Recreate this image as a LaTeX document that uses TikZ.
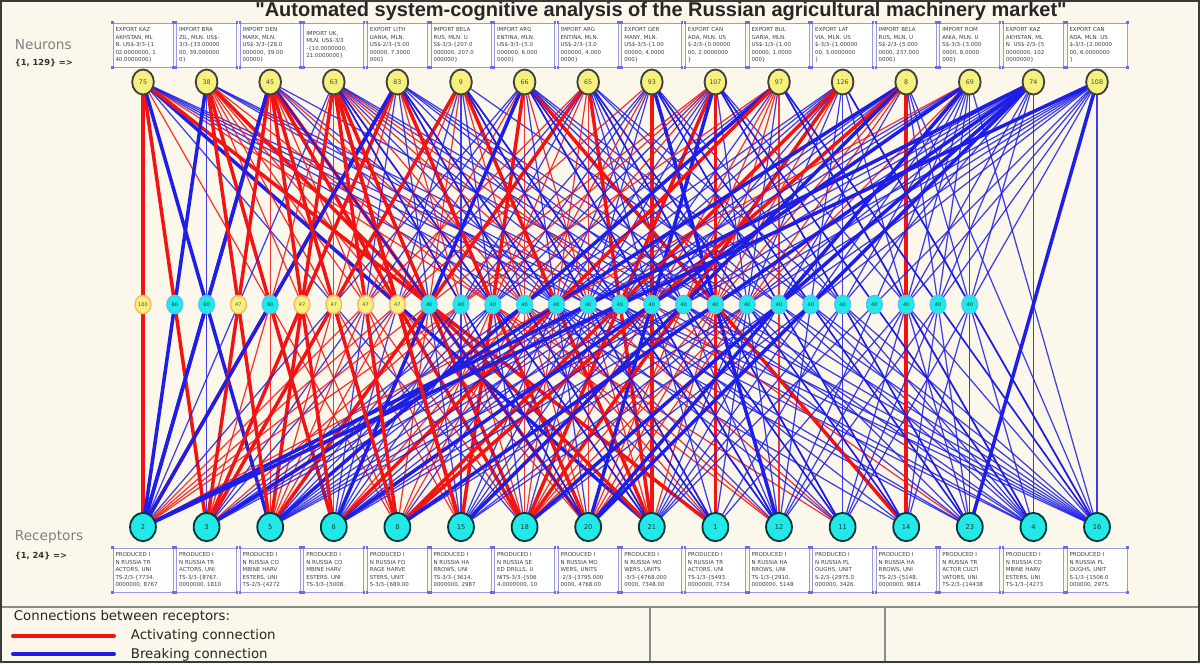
\documentclass[tikz,border=0pt]{standalone}
\usepackage{fontspec}
\setmainfont{DejaVu Sans}
\newfontfamily\titlefont{Liberation Sans}
\usetikzlibrary{shapes.geometric,calc}
\definecolor{bgc}{HTML}{FBF7EA}
\definecolor{redl}{HTML}{F01414}
\definecolor{bluel}{HTML}{1E1EE6}
\definecolor{neufill}{HTML}{F6F07C}
\definecolor{recfill}{HTML}{22E8E8}
\definecolor{boxedge}{HTML}{9A9AE0}
\definecolor{frame}{HTML}{3A3A3A}
\pgfdeclarelayer{back}
\pgfdeclarelayer{lines}
\pgfsetlayers{back,lines,main}
\begin{document}
\begin{tikzpicture}[x=0.6pt,y=-0.6pt,
  neuron/.style={ellipse,draw=black!75,line width=1.1pt,fill=neufill,minimum width=13pt,minimum height=15pt,inner sep=0pt,font=\fontsize{3.8}{4}\selectfont,text=black!70},
  receptor/.style={ellipse,draw=teal!45!black,line width=1.1pt,fill=recfill,minimum width=15.5pt,minimum height=17pt,inner sep=0pt,font=\fontsize{4}{4}\selectfont,text=teal!50!black},
  midy/.style={ellipse,draw=orange!60,line width=0.8pt,fill=neufill,minimum width=9.5pt,minimum height=11pt,inner sep=0pt,font=\fontsize{3}{3}\selectfont,text=black!70},
  midc/.style={ellipse,draw=cyan!70,line width=0.8pt,fill=recfill,minimum width=9.5pt,minimum height=11pt,inner sep=0pt,font=\fontsize{3}{3}\selectfont,text=teal!50!black},
  lbox/.style={draw=boxedge,line width=0.5pt,fill=white,minimum width=36pt,minimum height=26.5pt,text width=33pt,align=left,inner sep=1pt,font=\fontsize{3.3}{4.5}\selectfont,text=black!75},
  act/.style={draw=redl},
  brk/.style={draw=bluel},
  thickl/.style={line width=2.1pt},
  thinl/.style={line width=0.75pt,opacity=0.85},
  sidelab/.style={anchor=west,font=\fontsize{8.2}{9}\selectfont,text=black!50},
  sideidx/.style={anchor=west,font=\bfseries\fontsize{5}{6}\selectfont,text=black!80},
  legtxt/.style={anchor=west,font=\fontsize{8}{9}\selectfont,text=black!85}
]
\useasboundingbox (0,0) rectangle (1200,664);
\begin{pgfonlayer}{back}
\fill[bgc] (0,0) rectangle (1200,664);
\end{pgfonlayer}

% title
\node[font=\titlefont\bfseries\fontsize{12}{12}\selectfont,text=black!85] (title) at (661,11) {"Automated system-cognitive analysis of the Russian agricultural machinery market"};

% side labels
\node[sidelab] (neulab) at (9,45) {Neurons};
\node[sideidx] (neuidx) at (9,63) {\{1, 129\} =>};
\node[sidelab] (reclab) at (9,537) {Receptors};
\node[sideidx] (recidx) at (9,556) {\{1, 24\} =>};

% neurons and receptors
\foreach \i/\nn/\rn in {0/75/2,1/38/3,2/45/5,3/63/6,4/83/8,5/9/15,6/66/18,7/65/20,8/93/21,9/107/1,10/97/12,11/126/11,12/8/14,13/69/23,14/74/4,15/108/16}{
  \node[neuron] (n\i) at ({143+63.6*\i},82) {\nn};
  \node[receptor] (r\i) at ({143+63.6*\i},527) {\rn};
}

% top labels
\node[lbox] (t0) at ({143+63.6*0},45) {EXPORT KAZ\\AKHSTAN, ML\\N. US\$-3/3-\{1\\02.0000000, 1\\40.0000000\}};
\node[lbox] (t1) at ({143+63.6*1},45) {IMPORT BRA\\ZIL, MLN. US\$-\\3/3-\{33.00000\\00, 39.000000\\0\}};
\node[lbox] (t2) at ({143+63.6*2},45) {IMPORT DEN\\MARK, MLN.\\US\$-3/3-\{28.0\\000000, 39.00\\00000\}};
\node[lbox] (t3) at ({143+63.6*3},45) {IMPORT UK,\\MLN. US\$-3/3\\-\{10.0000000,\\21.0000000\}};
\node[lbox] (t4) at ({143+63.6*4},45) {EXPORT LITH\\UANIA, MLN.\\US\$-2/3-\{5.00\\00000, 7.3000\\000\}};
\node[lbox] (t5) at ({143+63.6*5},45) {IMPORT BELA\\RUS, MLN. U\\S\$-3/3-\{207.0\\000000, 207.0\\000000\}};
\node[lbox] (t6) at ({143+63.6*6},45) {IMPORT ARG\\ENTINA, MLN.\\US\$-3/3-\{5.0\\000000, 6.000\\0000\}};
\node[lbox] (t7) at ({143+63.6*7},45) {IMPORT ARG\\ENTINA, MLN.\\US\$-2/3-\{3.0\\000000, 4.000\\0000\}};
\node[lbox] (t8) at ({143+63.6*8},45) {EXPORT GER\\MANY, MLN.\\US\$-3/3-\{1.00\\00000, 4.0000\\000\}};
\node[lbox] (t9) at ({143+63.6*9},45) {EXPORT CAN\\ADA, MLN. US\\\$-2/3-\{0.00000\\00, 2.0000000\\\}};
\node[lbox] (t10) at ({143+63.6*10},45) {EXPORT BUL\\GARIA, MLN.\\US\$-1/3-\{1.00\\00000, 1.0000\\000\}};
\node[lbox] (t11) at ({143+63.6*11},45) {EXPORT LAT\\VIA, MLN. US\\\$-3/3-\{1.00000\\00, 3.0000000\\\}};
\node[lbox] (t12) at ({143+63.6*12},45) {IMPORT BELA\\RUS, MLN. U\\S\$-2/3-\{5.000\\0000, 237.000\\0000\}};
\node[lbox] (t13) at ({143+63.6*13},45) {IMPORT ROM\\ANIA, MLN. U\\S\$-3/3-\{3.000\\0000, 8.0000\\000\}};
\node[lbox] (t14) at ({143+63.6*14},45) {EXPORT KAZ\\AKHSTAN, ML\\N. US\$-2/3-\{5\\0000000, 102\\0000000\}};
\node[lbox] (t15) at ({143+63.6*15},45) {EXPORT CAN\\ADA, MLN. US\\\$-3/3-\{2.00000\\00, 6.0000000\\\}};

% bottom labels
\node[lbox] (b0) at ({143+63.6*0},570) {PRODUCED I\\N RUSSIA TR\\ACTORS, UNI\\TS-2/3-\{7734.\\0000000, 8767};
\node[lbox] (b1) at ({143+63.6*1},570) {PRODUCED I\\N RUSSIA TR\\ACTORS, UNI\\TS-3/3-\{8767.\\0000000, 1810};
\node[lbox] (b2) at ({143+63.6*2},570) {PRODUCED I\\N RUSSIA CO\\MBINE HARV\\ESTERS, UNI\\TS-2/3-\{4272};
\node[lbox] (b3) at ({143+63.6*3},570) {PRODUCED I\\N RUSSIA CO\\MBINE HARV\\ESTERS, UNI\\TS-3/3-\{5008.};
\node[lbox] (b4) at ({143+63.6*4},570) {PRODUCED I\\N RUSSIA FO\\RAGE HARVE\\STERS, UNIT\\S-3/3-\{689.00};
\node[lbox] (b5) at ({143+63.6*5},570) {PRODUCED I\\N RUSSIA HA\\RROWS, UNI\\TS-3/3-\{3614.\\0000000, 2987};
\node[lbox] (b6) at ({143+63.6*6},570) {PRODUCED I\\N RUSSIA SE\\ED DRILLS, U\\NITS-3/3-\{506\\4.0000000, 10};
\node[lbox] (b7) at ({143+63.6*7},570) {PRODUCED I\\N RUSSIA MO\\WERS, UNITS\\-2/3-\{3795.000\\0000, 4768.00};
\node[lbox] (b8) at ({143+63.6*8},570) {PRODUCED I\\N RUSSIA MO\\WERS, UNITS\\-3/3-\{4768.000\\0000, 7348.00};
\node[lbox] (b9) at ({143+63.6*9},570) {PRODUCED I\\N RUSSIA TR\\ACTORS, UNI\\TS-1/3-\{5493.\\0000000, 7734};
\node[lbox] (b10) at ({143+63.6*10},570) {PRODUCED I\\N RUSSIA HA\\RROWS, UNI\\TS-1/3-\{2910.\\0000000, 5148};
\node[lbox] (b11) at ({143+63.6*11},570) {PRODUCED I\\N RUSSIA PL\\OUGHS, UNIT\\S-2/3-\{2975.0\\000000, 3426.};
\node[lbox] (b12) at ({143+63.6*12},570) {PRODUCED I\\N RUSSIA HA\\RROWS, UNI\\TS-2/3-\{5148.\\0000000, 9814};
\node[lbox] (b13) at ({143+63.6*13},570) {PRODUCED I\\N RUSSIA TR\\ACTOR CULTI\\VATORS, UNI\\TS-2/3-\{14438};
\node[lbox] (b14) at ({143+63.6*14},570) {PRODUCED I\\N RUSSIA CO\\MBINE HARV\\ESTERS, UNI\\TS-1/3-\{4273};
\node[lbox] (b15) at ({143+63.6*15},570) {PRODUCED I\\N RUSSIA PL\\OUGHS, UNIT\\S-1/3-\{1506.0\\000000, 2975.};

% corner markers of label boxes
\foreach \i in {0,...,15}{
  \foreach \a in {north west,north east,south west,south east}{
    \fill[boxedge!70!blue] (t\i.\a) ++(-0.7pt,-0.7pt) rectangle ++(1.4pt,1.4pt);
    \fill[boxedge!70!blue] (b\i.\a) ++(-0.7pt,-0.7pt) rectangle ++(1.4pt,1.4pt);
  }
}

% connections
\begin{pgfonlayer}{lines}
\pgfmathsetseed{4711}
\foreach \i in {0,...,15}{
  \foreach \j in {0,...,15}{
    \pgfmathsetmacro\pd{ifthenelse(\j>13,0.7,ifthenelse(\j>8,0.66,0.86))}
    \pgfmathsetmacro\pr{ifthenelse(\j>13,0,ifthenelse(\i>13,0.12,ifthenelse(\j>8,0.5-0.03*\i,0.8-0.03*\i)))}
    \pgfmathtruncatemacro\dd{rnd<\pd}
    \pgfmathtruncatemacro\isred{rnd<\pr}
    \pgfmathsetmacro\pthk{ifthenelse(\j>13,0,ifthenelse(\isred==1,0.4,ifthenelse(\j>8,0.15,0.25)))}
    \pgfmathtruncatemacro\isthk{rnd<\pthk}
    \ifnum\dd=1
      \ifnum\isred=1 \def\lc{act}\else\def\lc{brk}\fi
      \ifnum\isthk=1 \def\lw{thickl}\else\def\lw{thinl}\fi
      \draw[\lc,\lw] (n\i.center) -- (r\j.center);
    \fi
  }
}
\end{pgfonlayer}

% strongest connections with their weight at mid-point
\foreach \k/\i/\j/\v/\st/\ls in {0/0/0/100/midy/act,1/1/0/60/midc/brk,2/2/0/60/midc/brk,3/1/2/47/midy/act,4/4/0/60/midc/brk,5/2/3/47/midy/act,6/2/4/47/midy/act,7/3/4/47/midy/act,8/3/5/47/midy/act}{
  \node[\st] (m\k) at ($(n\i)!0.5!(r\j)$) {\v};
  \begin{pgfonlayer}{lines}
  \draw[\ls,thickl] (n\i.center) -- (m\k) -- (r\j.center);
  \end{pgfonlayer}
}
\foreach \k in {9,...,26}{
  \pgfmathtruncatemacro\i{floor(\k/2)-2}
  \pgfmathtruncatemacro\j{\k-\i}
  \node[midc] (m\k) at ($(n\i)!0.5!(r\j)$) {40};
  \begin{pgfonlayer}{lines}
  \draw[brk,line width=1pt] (n\i.center) -- (m\k) -- (r\j.center);
  \end{pgfonlayer}
}

% legend panel
\draw[black!45,line width=0.9pt] (0,607) -- (1200,607);
\draw[black!45,line width=0.9pt] (650,607) -- (650,662);
\draw[black!45,line width=0.9pt] (885,607) -- (885,662);
\node[legtxt] (legtitle) at (8,617) {Connections between receptors:};
\coordinate (ra) at (13,636);
\coordinate (rb) at (114,636);
\coordinate (ba) at (13,654);
\coordinate (bb) at (114,654);
\draw[redl,line width=2.4pt,line cap=round] (ra) -- (rb);
\draw[bluel,line width=2.4pt,line cap=round] (ba) -- (bb);
\node[legtxt] (legact) at (125,636) {Activating connection};
\node[legtxt] (legbrk) at (125,655) {Breaking connection};

% frame
\draw[frame,line width=1.5pt] (1,1) rectangle (1199,662);
\end{tikzpicture}
\end{document}
